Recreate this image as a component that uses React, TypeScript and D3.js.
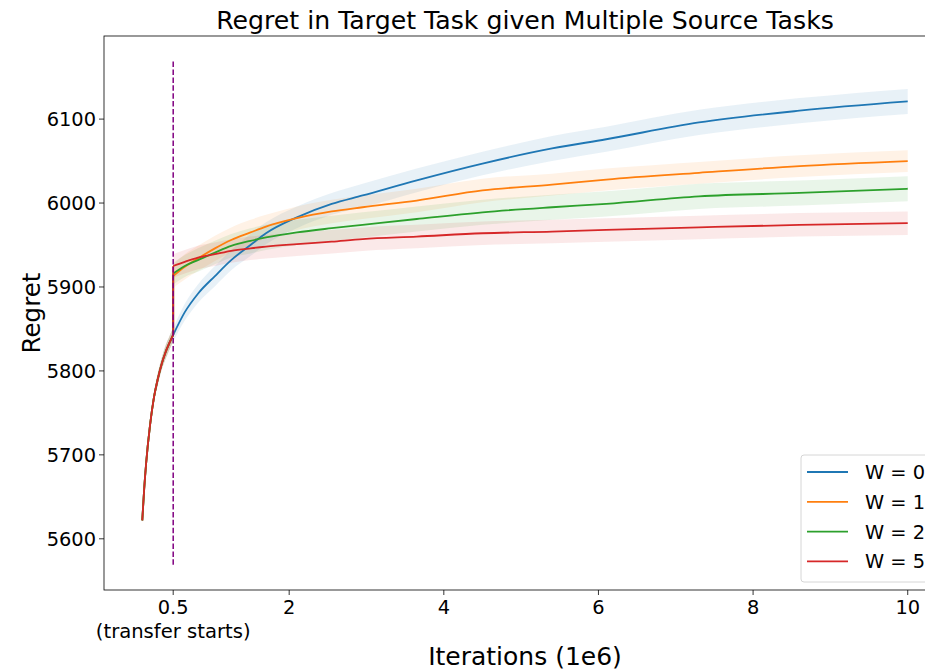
import React, { useEffect, useRef } from "react";
import * as d3 from "d3";

// iterations (1e6) before transfer, shared by every run
const preIters = [0.1, 0.125, 0.15, 0.2, 0.25, 0.3, 0.35, 0.4, 0.45, 0.5];
const preRegret = [5622, 5660, 5690, 5735, 5768, 5790, 5808, 5822, 5833, 5843];
const preSpread = [3, 4, 5, 6, 6, 7, 7, 8, 8, 8];

// iterations (1e6) after transfer starts
const postIters = [0.5, 0.65, 0.82, 1.04, 1.25, 1.5, 1.7, 2.1, 2.55, 2.95, 3.65, 4.5, 5.4, 6.1, 7.3, 8.6, 10];

const regretW0 = [5843, 5870, 5892, 5913, 5932, 5950, 5964, 5983, 5999, 6009, 6027, 6047, 6065, 6076, 6096, 6110, 6121];
const regretW1 = [5913, 5924, 5934, 5946, 5956, 5965, 5972, 5982, 5990, 5995, 6003, 6015, 6022, 6028, 6036, 6044, 6050];
const regretW2 = [5916, 5925, 5932, 5941, 5949, 5955, 5959, 5965, 5970, 5974, 5981, 5989, 5995, 5999, 6008, 6012, 6017];
const regretW5 = [5925, 5930, 5935, 5939, 5943, 5946, 5948, 5951, 5954, 5957, 5960, 5964, 5966, 5968, 5971, 5974, 5976];

const spreadW0 = [8, 10, 11, 12, 12, 13, 13, 13, 13, 14, 14, 14, 15, 15, 15, 15, 15];
const spreadW1 = [14, 15, 15, 15, 15, 15, 14, 14, 14, 14, 14, 14, 13, 13, 13, 13, 13];
const spreadW2 = [13, 13, 14, 14, 14, 15, 15, 15, 15, 15, 15, 15, 15, 15, 15, 15, 15];
const spreadW5 = [14, 14, 14, 14, 14, 14, 14, 14, 14, 14, 14, 14, 14, 14, 14, 14, 14];

const seriesNames = ["W = 0", "W = 1", "W = 2", "W = 5"];
const seriesColors = ["#1f77b4", "#ff7f0e", "#2ca02c", "#d62728"];

const xTicks = [0.5, 2, 4, 6, 8, 10];
const xTickLabels = ["0.5", "2", "4", "6", "8", "10"];
const yTicks = [5600, 5700, 5800, 5900, 6000, 6100];

const transferAt = 0.5;
const transferSpan = [5569, 6169];

export default function App() {
  const ref = useRef<SVGSVGElement>(null);

  useEffect(() => {
    document.body.style.margin = "0";
    const width = 925, height = 671;
    const left = 104, right = 946, top = 36, bottom = 590;
    const font = "DejaVu Sans, sans-serif";

    const x = d3.scaleLinear().domain([-0.395, 10.495]).range([left, right]);
    const y = d3.scaleLinear().domain([5539, 6199]).range([bottom, top]);

    const svg = d3.select(ref.current);
    svg.selectAll("*").remove();
    svg.attr("width", width).attr("height", height);
    svg.append("rect").attr("width", width).attr("height", height).attr("fill", "white");

    const post = [regretW0, regretW1, regretW2, regretW5];
    const spreads = [spreadW0, spreadW1, spreadW2, spreadW5];

    const line = d3.line<any>().x((d) => x(d.it)).y((d) => y(d.v)).curve(d3.curveMonotoneX);
    const area = d3.area<any>().x((d) => x(d.it)).y0((d) => y(d.v - d.s)).y1((d) => y(d.v + d.s)).curve(d3.curveMonotoneX);

    const g = svg.append("g");

    // pre-transfer and post-transfer pieces are drawn separately so the jump at 0.5 stays vertical
    post.forEach((vals, k) => {
      const pre = preIters.map((it, i) => ({ it, v: preRegret[i], s: preSpread[i] }));
      const after = postIters.map((it, i) => ({ it, v: vals[i], s: spreads[k][i] }));
      [pre, after].forEach((pts) => {
        g.append("path")
          .attr("d", area(pts) as string)
          .attr("fill", seriesColors[k])
          .attr("fill-opacity", 0.1);
      });
    });
    post.forEach((vals, k) => {
      const pre = preIters.map((it, i) => ({ it, v: preRegret[i] }));
      const after = postIters.map((it, i) => ({ it, v: vals[i] }));
      const p = d3.path();
      p.moveTo(x(pre[pre.length - 1].it), y(pre[pre.length - 1].v));
      p.lineTo(x(after[0].it), y(after[0].v));
      [line(pre) as string, line(after) as string, p.toString()].forEach((d) => {
        g.append("path")
          .attr("d", d)
          .attr("fill", "none")
          .attr("stroke", seriesColors[k])
          .attr("stroke-width", 1.8);
      });
    });

    // transfer marker
    g.append("line")
      .attr("x1", x(transferAt)).attr("x2", x(transferAt))
      .attr("y1", y(transferSpan[0])).attr("y2", y(transferSpan[1]))
      .attr("stroke", "purple")
      .attr("stroke-width", 1.5)
      .attr("stroke-dasharray", "5.5,2.4");

    // spines
    svg.append("rect")
      .attr("x", left).attr("y", top)
      .attr("width", right - left).attr("height", bottom - top)
      .attr("fill", "none").attr("stroke", "black").attr("stroke-width", 0.8);

    // y axis
    yTicks.forEach((t) => {
      svg.append("line").attr("x1", left - 5).attr("x2", left)
        .attr("y1", y(t)).attr("y2", y(t)).attr("stroke", "black").attr("stroke-width", 0.8);
      svg.append("text").attr("x", left - 8).attr("y", y(t))
        .attr("dy", "0.36em").attr("text-anchor", "end")
        .attr("font-family", font).attr("font-size", 19.4).text(t);
    });

    // x axis
    xTicks.forEach((t, i) => {
      svg.append("line").attr("x1", x(t)).attr("x2", x(t))
        .attr("y1", bottom).attr("y2", bottom + 5).attr("stroke", "black").attr("stroke-width", 0.8);
      svg.append("text").attr("x", x(t)).attr("y", bottom + 24)
        .attr("text-anchor", "middle")
        .attr("font-family", font).attr("font-size", 19.4).text(xTickLabels[i]);
    });
    svg.append("text").attr("x", x(transferAt)).attr("y", bottom + 48)
      .attr("text-anchor", "middle")
      .attr("font-family", font).attr("font-size", 19.6).text("(transfer starts)");

    // labels
    svg.append("text").attr("x", (left + right) / 2).attr("y", 29)
      .attr("text-anchor", "middle").attr("font-family", font).attr("font-size", 25.2)
      .text("Regret in Target Task given Multiple Source Tasks");
    svg.append("text").attr("x", (left + right) / 2).attr("y", 665)
      .attr("text-anchor", "middle").attr("font-family", font).attr("font-size", 25)
      .text("Iterations (1e6)");
    svg.append("text")
      .attr("transform", `translate(40,${(top + bottom) / 2}) rotate(-90)`)
      .attr("text-anchor", "middle").attr("font-family", font).attr("font-size", 24.5)
      .text("Regret");

    // legend
    const lg = svg.append("g").attr("transform", "translate(801,455)");
    lg.append("rect").attr("width", 140).attr("height", 127).attr("rx", 3)
      .attr("fill", "white").attr("fill-opacity", 0.8)
      .attr("stroke", "#cccccc").attr("stroke-width", 0.8);
    seriesNames.forEach((name, i) => {
      const yy = 17 + i * 29.8;
      lg.append("line").attr("x1", 6).attr("x2", 47).attr("y1", yy).attr("y2", yy)
        .attr("stroke", seriesColors[i]).attr("stroke-width", 1.8);
      lg.append("text").attr("x", 64).attr("y", yy).attr("dy", "0.36em")
        .attr("font-family", font).attr("font-size", 19.4).text(name);
    });
  }, []);

  return <svg ref={ref} style={{ display: "block" }} />;
}
